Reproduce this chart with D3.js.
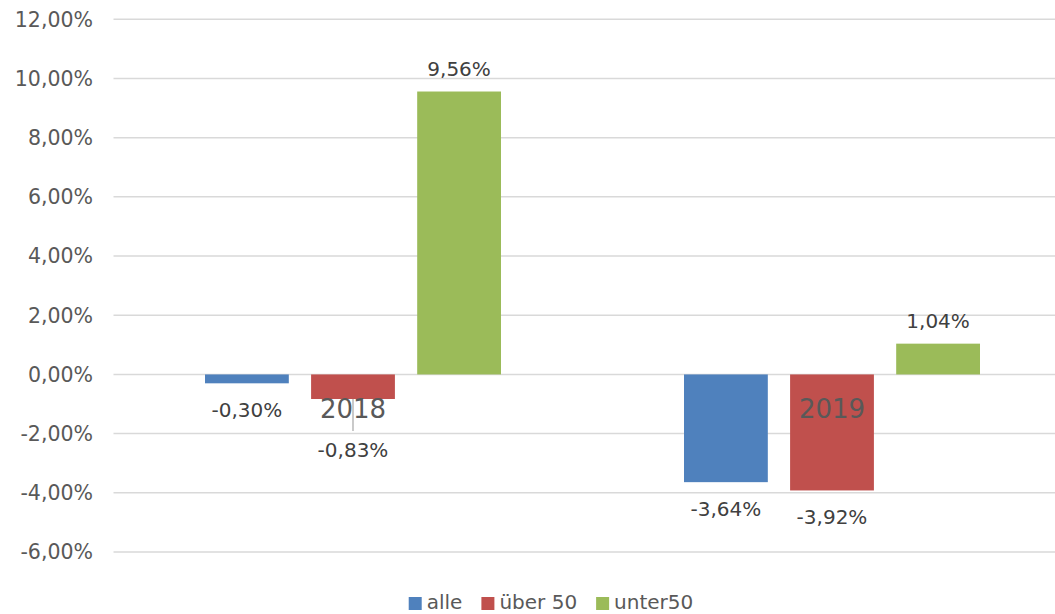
<!DOCTYPE html>
<html>
<head>
<meta charset="utf-8">
<script src="https://cdn.jsdelivr.net/npm/d3@7"></script>
<style>
  body { margin: 0; background: #fff; }
  svg { display: block; font-family: "DejaVu Sans", sans-serif; }
</style>
</head>
<body>
<div class="content"></div>
<script>
var categories = ["2018", "2019"];
var seriesNames = ["alle", "über 50", "unter50"];
var alle = [-0.30, -3.64];
var ueber50 = [-0.83, -3.92];
var unter50 = [9.56, 1.04];
var yTicks = [-6, -4, -2, 0, 2, 4, 6, 8, 10, 12];
var colors = ["#4F81BD", "#C0504D", "#9BBB59"];

function render() {
  var width = 1055, height = 614;
  var series = [alle, ueber50, unter50];

  var de = d3.formatLocale({decimal: ",", thousands: ".", grouping: [3], currency: ["", " €"], minus: "-"});
  var fmt = de.format(".2f");

  var svg = d3.select("body").select(".content").append("svg")
      .attr("width", width)
      .attr("height", height);

  // plot area runs past the right edge like the original crop
  var x0 = d3.scaleBand().domain(categories).range([113.5, 1071.5]);
  var x1 = d3.scaleBand().domain(seriesNames).range([91.5, 387.5]).paddingInner(0.21);
  var y = d3.scaleLinear().domain([-6, 12]).range([552, 19.3]);

  // gridlines
  svg.append("g").selectAll("line")
      .data(yTicks)
    .enter().append("line")
      .attr("x1", 113.5).attr("x2", width)
      .attr("y1", function(d) { return y(d); })
      .attr("y2", function(d) { return y(d); })
      .attr("stroke", "#d9d9d9")
      .attr("stroke-width", 1.5);

  // y axis labels
  svg.append("g").selectAll("text")
      .data(yTicks)
    .enter().append("text")
      .attr("x", 93)
      .attr("y", function(d) { return y(d); })
      .attr("dy", "0.36em")
      .attr("text-anchor", "end")
      .attr("font-size", 20.5)
      .attr("fill", "#595959")
      .text(function(d) { return fmt(d) + "%"; });

  // bars
  var rows = [];
  categories.forEach(function(c, i) {
    seriesNames.forEach(function(s, j) {
      rows.push({cat: c, ser: s, idx: j, v: series[j][i]});
    });
  });

  svg.append("g").selectAll("rect")
      .data(rows)
    .enter().append("rect")
      .attr("x", function(d) { return x0(d.cat) + x1(d.ser); })
      .attr("width", x1.bandwidth())
      .attr("y", function(d) { return y(Math.max(0, d.v)); })
      .attr("height", function(d) { return Math.abs(y(d.v) - y(0)); })
      .attr("fill", function(d) { return colors[d.idx]; });

  // category labels sit just under the zero line
  svg.append("g").selectAll("text")
      .data(categories)
    .enter().append("text")
      .attr("x", function(d) { return x0(d) + x0.bandwidth() / 2; })
      .attr("y", y(0) + 44)
      .attr("text-anchor", "middle")
      .attr("font-size", 26)
      .attr("fill", "#595959")
      .text(function(d) { return d; });

  // value labels; the one clashing with "2018" is pushed down with a leader line
  var nudge = {"2018|über 50": 24};
  var lab = svg.append("g");
  rows.forEach(function(d) {
    var cx = x0(d.cat) + x1(d.ser) + x1.bandwidth() / 2;
    var ty = d.v >= 0 ? y(d.v) - 16 : y(d.v) + 34;
    var extra = nudge[d.cat + "|" + d.ser] || 0;
    if (extra) {
      lab.append("line")
          .attr("x1", cx).attr("x2", cx)
          .attr("y1", y(d.v)).attr("y2", ty + extra - 26)
          .attr("stroke", "#a6a6a6")
          .attr("stroke-width", 1.2);
    }
    lab.append("text")
        .attr("x", cx)
        .attr("y", ty + extra)
        .attr("text-anchor", "middle")
        .attr("font-size", 20)
        .attr("fill", "#404040")
        .text(fmt(d.v) + "%");
  });

  // legend
  var leg = svg.append("g");
  var items = seriesNames.map(function(s, i) {
    var g = leg.append("g");
    g.append("rect").attr("width", 13).attr("height", 13).attr("y", -12).attr("fill", colors[i]);
    var t = g.append("text").attr("x", 18).attr("font-size", 20).attr("fill", "#595959").text(s);
    return {g: g, w: 18 + t.node().getComputedTextLength()};
  });
  var gap = 19;
  var total = d3.sum(items, function(d) { return d.w; }) + gap * (items.length - 1);
  var lx = 551 - total / 2;
  items.forEach(function(it) {
    it.g.attr("transform", "translate(" + lx + ",609)");
    lx += it.w + gap;
  });
}
render();
</script>
</body>
</html>
